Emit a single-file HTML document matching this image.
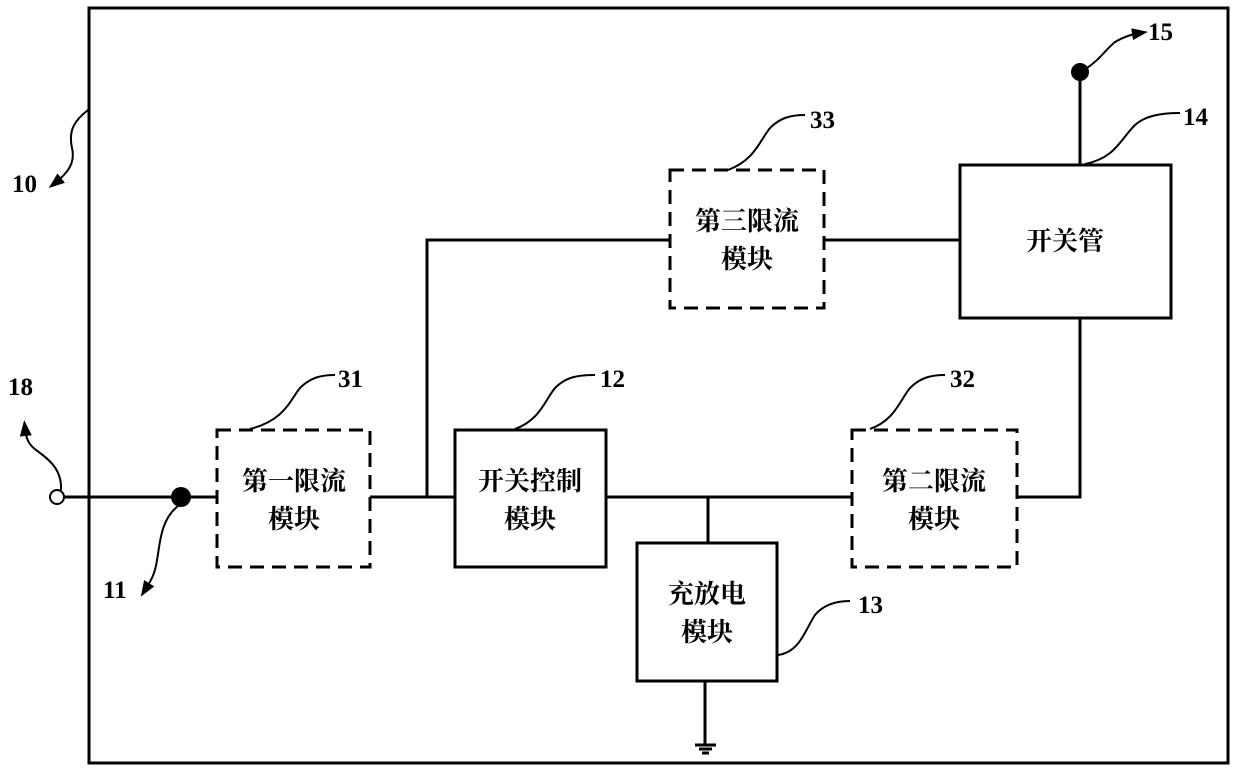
<!DOCTYPE html>
<html><head><meta charset="utf-8"><style>body{margin:0;background:#fff}svg{display:block}text{font-family:"Liberation Serif","Noto Serif CJK SC",serif;fill:#000}</style></head><body>
<svg width="1239" height="770" viewBox="0 0 1239 770" xmlns="http://www.w3.org/2000/svg">
<defs><marker id="a" markerWidth="8" markerHeight="8" refX="4" refY="4" orient="auto"><path d="M0,1 L8,4 L0,7 Z" fill="#000"/></marker></defs>
<g stroke="#000" stroke-width="3" fill="none">
<rect x="89" y="8" width="1139" height="755"/>
<line x1="64" y1="497" x2="218" y2="497"/>
<line x1="370" y1="497" x2="455" y2="497"/>
<polyline points="427,497 427,240 670,240"/>
<line x1="824" y1="240" x2="960" y2="240"/>
<line x1="606" y1="497" x2="852" y2="497"/>
<line x1="708" y1="497" x2="708" y2="543"/>
<polyline points="1017,497 1080,497 1080,318"/>
<line x1="1080" y1="165" x2="1080" y2="72"/>
<line x1="705" y1="681" x2="705" y2="745"/>
<line x1="695" y1="745" x2="716" y2="745"/><line x1="699" y1="749" x2="712" y2="749"/><line x1="702" y1="753" x2="709" y2="753"/>
<rect x="455" y="430" width="151" height="137"/>
<rect x="637" y="543" width="140" height="138"/>
<rect x="960" y="165" width="211" height="153"/>
<g stroke-dasharray="14,8">
<rect x="217" y="430" width="153" height="137"/>
<rect x="670" y="170" width="154" height="138"/>
<rect x="852" y="430" width="165" height="137"/>
</g>
</g>
<circle cx="57" cy="497" r="7" fill="#fff" stroke="#000" stroke-width="2"/>
<circle cx="181" cy="497" r="10" fill="#000"/>
<circle cx="1080" cy="72" r="9" fill="#000"/>
<g stroke="#000" stroke-width="2" fill="none">
<path d="M61,490 C62,470 50,460 36,450 C28,444 26,438 25,428" marker-end="url(#a)"/>
<path d="M178,506 C160,520 160,545 157,560 C155,575 150,582 145,590" marker-end="url(#a)"/>
<path d="M88,110 C75,120 68,130 72,148 C76,165 65,175 55,183" marker-end="url(#a)"/>
<path d="M1084,70 C1100,60 1105,50 1115,42 C1125,36 1133,34 1140,33" marker-end="url(#a)"/>
<path d="M250,429 C285,420 290,400 300,388 C310,378 320,375 335,375"/>
<path d="M515,429 C540,420 545,400 555,388 C565,378 575,375 595,375"/>
<path d="M870,429 C895,420 900,400 910,388 C920,378 930,375 945,375"/>
<path d="M728,170 C755,160 760,140 770,128 C780,118 790,115 805,115"/>
<path d="M1085,164 C1115,158 1120,140 1135,125 C1145,116 1160,113 1180,113"/>
<path d="M778,655 C800,652 805,630 815,615 C825,603 840,601 850,601"/>
</g>
<g font-size="25" font-weight="bold">
<text x="8" y="395">18</text>
<text x="103" y="598">11</text>
<text x="12" y="192">10</text>
<text x="338" y="387">31</text>
<text x="600" y="387">12</text>
<text x="950" y="387">32</text>
<text x="810" y="128">33</text>
<text x="1183" y="125">14</text>
<text x="1148" y="40">15</text>
<text x="858" y="613">13</text>
</g>
<g font-size="26" text-anchor="middle" font-weight="bold">
<text x="294" y="490">第一限流</text><text x="294" y="528">模块</text>
<text x="530" y="490">开关控制</text><text x="530" y="528">模块</text>
<text x="934" y="490">第二限流</text><text x="934" y="528">模块</text>
<text x="747" y="230">第三限流</text><text x="747" y="268">模块</text>
<text x="707" y="603">充放电</text><text x="707" y="641">模块</text>
<text x="1065" y="250">开关管</text>
</g>
</svg>
</body></html>
